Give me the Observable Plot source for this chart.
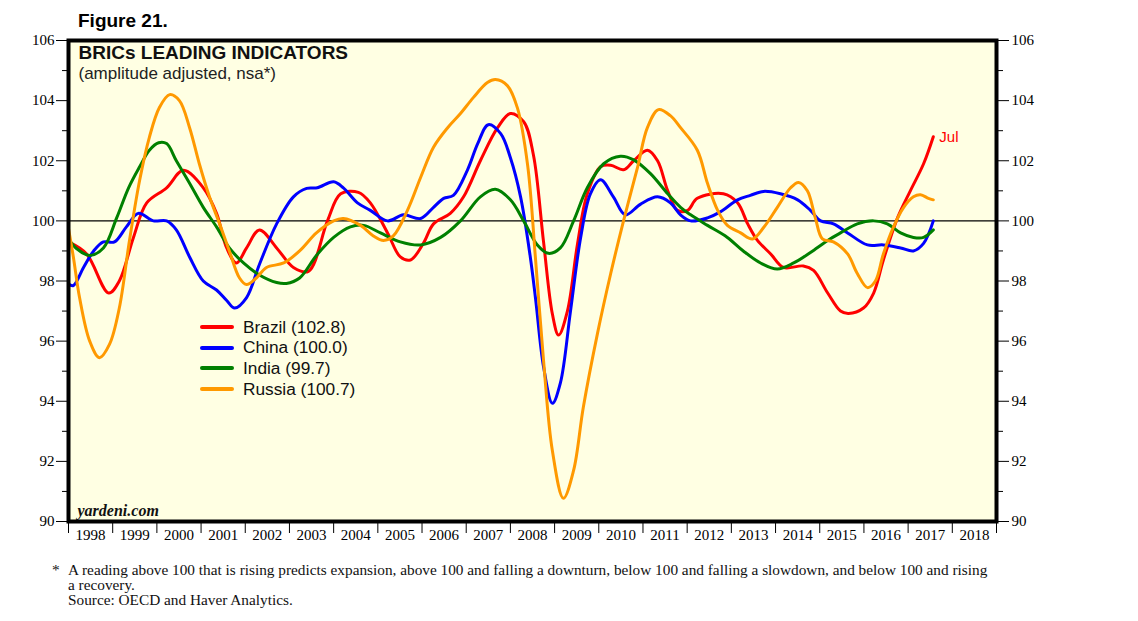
<!DOCTYPE html>
<html>
<head>
<meta charset="utf-8">
<script src="https://cdn.jsdelivr.net/npm/d3@7"></script>
<script src="https://cdn.jsdelivr.net/npm/@observablehq/plot@0.6"></script>
<style>
  body { margin: 0; background: #fff; }
  #wrap { position: relative; width: 1138px; height: 621px; font-family: "Liberation Sans", Arial, sans-serif; }
  #fig { position: absolute; left: 78px; top: 10px; font-weight: bold; font-size: 19px; color: #000; }
  #legend { position: absolute; left: 200px; top: 317px; font-size: 17.3px; color: #111; }
  .row { height: 20.6px; display: flex; align-items: center; }
  .sw { width: 34px; height: 4px; border-radius: 2px; margin-right: 9px; }
  #foot { position: absolute; left: 0; top: 562px; font-family: "Liberation Serif", "Times New Roman", serif; font-size: 15.3px; line-height: 15px; color: #111; }
  #foot .star { position: absolute; left: 52px; top: 0; }
  #foot .txt { position: absolute; left: 68px; top: 0; white-space: nowrap; }
  #chart { position: absolute; left: 0; top: 0; }
</style>
</head>
<body>
<div id="wrap">
  <div id="chart"></div>
  <div id="fig">Figure 21.</div>
  <div id="legend"></div>
  <div id="foot"><span class="star">*</span><div class="txt">A reading above 100 that is rising predicts expansion, above 100 and falling a downturn, below 100 and falling a slowdown, and below 100 and rising<br>a recovery.<br>Source: OECD and Haver Analytics.</div></div>
</div>
<script>
// ---- data: [decimal year, index value] ----
const brazil = [
  [1998.00, 99.3], [1998.41, 98.9], [1998.91, 97.6], [1999.15, 98.0], [1999.47, 99.45], [1999.77, 100.6],
  [2000.22, 101.1], [2000.60, 101.68], [2001.05, 101.1], [2001.35, 100.25], [2001.58, 99.1], [2001.80, 98.6],
  [2002.03, 99.1], [2002.32, 99.7], [2002.71, 99.1], [2003.09, 98.45], [2003.43, 98.32], [2003.86, 100.0],
  [2004.16, 100.9], [2004.56, 100.95], [2004.83, 100.6], [2005.22, 99.6], [2005.51, 98.8], [2005.74, 98.7],
  [2006.03, 99.25], [2006.26, 99.9], [2006.64, 100.25], [2006.94, 100.8], [2007.32, 102.0], [2007.71, 103.1],
  [2008.00, 103.57], [2008.30, 103.3], [2008.52, 102.2], [2008.75, 99.3], [2008.95, 96.9], [2009.09, 96.2],
  [2009.29, 97.0], [2009.52, 99.25], [2009.74, 100.9], [2010.04, 101.8], [2010.27, 101.85], [2010.56, 101.7],
  [2010.79, 102.0], [2011.10, 102.35], [2011.33, 102.0], [2011.56, 101.0], [2011.78, 100.35], [2012.01, 100.35],
  [2012.23, 100.75], [2012.82, 100.9], [2013.14, 100.6], [2013.37, 99.9], [2013.59, 99.35], [2013.89, 98.9],
  [2014.18, 98.45], [2014.63, 98.5], [2014.86, 98.35], [2015.18, 97.6], [2015.47, 97.0], [2015.65, 96.92],
  [2015.99, 97.1], [2016.22, 97.6], [2016.44, 98.7], [2016.76, 100.1], [2017.05, 101.0], [2017.35, 101.9],
  [2017.57, 102.8]
];
const china = [
  [1998.00, 97.9], [1998.11, 97.85], [1998.34, 98.45], [1998.57, 99.0], [1998.79, 99.3], [1999.04, 99.3],
  [1999.31, 99.8], [1999.58, 100.25], [1999.92, 100.0], [2000.22, 100.0], [2000.44, 99.7], [2000.74, 98.8],
  [2001.05, 98.0], [2001.35, 97.7], [2001.58, 97.35], [2001.76, 97.1], [2002.03, 97.45], [2002.32, 98.55],
  [2002.71, 99.9], [2003.09, 100.8], [2003.39, 101.08], [2003.63, 101.1], [2004.00, 101.3], [2004.22, 101.1],
  [2004.54, 100.6], [2004.83, 100.35], [2005.22, 100.0], [2005.58, 100.2], [2005.97, 100.08], [2006.26, 100.45],
  [2006.49, 100.75], [2006.71, 100.85], [2007.03, 101.7], [2007.26, 102.57], [2007.50, 103.2], [2007.78, 102.9],
  [2008.00, 102.1], [2008.23, 100.8], [2008.45, 98.8], [2008.57, 97.4], [2008.75, 95.15], [2008.95, 93.93],
  [2009.13, 94.6], [2009.36, 97.0], [2009.59, 99.45], [2009.81, 100.9], [2010.04, 101.37], [2010.33, 100.8],
  [2010.60, 100.2], [2010.94, 100.55], [2011.33, 100.8], [2011.62, 100.6], [2011.85, 100.2], [2012.08, 100.0],
  [2012.46, 100.1], [2012.75, 100.3], [2013.14, 100.7], [2013.43, 100.85], [2013.73, 100.98], [2014.11, 100.9],
  [2014.50, 100.7], [2014.79, 100.35], [2015.02, 100.0], [2015.31, 99.9], [2015.63, 99.6], [2016.08, 99.2],
  [2016.44, 99.2], [2016.83, 99.1], [2017.12, 99.0], [2017.35, 99.25], [2017.57, 100.0]
];
const india = [
  [1998.00, 99.4], [1998.18, 99.08], [1998.48, 98.85], [1998.79, 99.1], [1999.09, 100.1], [1999.36, 101.1],
  [1999.61, 101.8], [1999.83, 102.35], [2000.04, 102.6], [2000.22, 102.57], [2000.44, 102.0], [2000.74, 101.25],
  [2001.05, 100.45], [2001.35, 99.8], [2001.64, 99.1], [2001.96, 98.6], [2002.32, 98.2], [2002.71, 97.95],
  [2002.93, 97.92], [2003.23, 98.1], [2003.61, 98.85], [2004.00, 99.45], [2004.38, 99.8], [2004.68, 99.85],
  [2005.06, 99.6], [2005.51, 99.3], [2005.97, 99.2], [2006.42, 99.45], [2006.87, 100.0], [2007.32, 100.8],
  [2007.66, 101.05], [2008.00, 100.7], [2008.30, 100.0], [2008.61, 99.2], [2008.86, 98.92], [2009.13, 99.1],
  [2009.43, 100.0], [2009.74, 101.1], [2010.11, 101.9], [2010.49, 102.15], [2010.79, 102.03], [2011.17, 101.57],
  [2011.56, 100.9], [2011.85, 100.45], [2012.08, 100.2], [2012.46, 99.85], [2012.91, 99.45], [2013.27, 99.0],
  [2013.66, 98.6], [2014.04, 98.4], [2014.41, 98.6], [2014.79, 98.95], [2015.18, 99.35], [2015.47, 99.6],
  [2015.85, 99.9], [2016.22, 100.0], [2016.53, 99.9], [2016.83, 99.6], [2017.12, 99.45], [2017.35, 99.45],
  [2017.57, 99.7]
];
const russia = [
  [1998.00, 99.75], [1998.11, 98.8], [1998.25, 97.45], [1998.48, 96.0], [1998.70, 95.45], [1998.93, 95.9],
  [1999.15, 97.1], [1999.38, 99.35], [1999.61, 101.35], [1999.83, 102.78], [2000.06, 103.78], [2000.29, 104.2],
  [2000.51, 104.0], [2000.74, 103.1], [2000.96, 101.9], [2001.19, 100.8], [2001.42, 99.9], [2001.64, 99.0],
  [2001.87, 98.1], [2002.03, 97.88], [2002.25, 98.1], [2002.48, 98.45], [2002.87, 98.6], [2003.23, 99.0],
  [2003.61, 99.6], [2004.00, 100.0], [2004.22, 100.08], [2004.61, 99.85], [2004.90, 99.5], [2005.13, 99.35],
  [2005.35, 99.5], [2005.67, 100.35], [2005.97, 101.45], [2006.26, 102.45], [2006.58, 103.1], [2006.87, 103.57],
  [2007.16, 104.1], [2007.48, 104.6], [2007.66, 104.7], [2007.93, 104.5], [2008.16, 103.75], [2008.39, 101.85],
  [2008.57, 98.7], [2008.75, 95.35], [2008.95, 92.35], [2009.20, 90.77], [2009.43, 91.7], [2009.65, 93.8],
  [2009.97, 96.25], [2010.27, 98.25], [2010.56, 100.0], [2010.88, 101.8], [2011.10, 103.1], [2011.35, 103.7],
  [2011.62, 103.5], [2011.85, 103.1], [2012.23, 102.35], [2012.46, 101.25], [2012.69, 100.35], [2012.91, 99.85],
  [2013.21, 99.6], [2013.48, 99.4], [2013.73, 99.78], [2014.04, 100.45], [2014.34, 101.1], [2014.52, 101.28],
  [2014.72, 101.0], [2014.90, 100.1], [2015.06, 99.4], [2015.31, 99.3], [2015.63, 98.9], [2015.85, 98.25],
  [2016.08, 97.78], [2016.26, 98.0], [2016.44, 98.9], [2016.67, 99.8], [2016.90, 100.45], [2017.12, 100.8],
  [2017.28, 100.87], [2017.46, 100.75], [2017.57, 100.7]
];
const seriesNames = ["Brazil", "China", "India", "Russia"];
const seriesColors = ["#ff0000", "#0000ff", "#008000", "#ff9900"];
const seriesLatest = ["102.8", "100.0", "99.7", "100.7"];
const years = d3.range(1998, 2019);          // labelled years
const yMajor = d3.range(90, 107, 2);
const yMinor = d3.range(91, 106, 2);
const lastLabel = "Jul";

const allSeries = [brazil, china, india, russia];
const serif = "Liberation Serif, Times New Roman, serif";
const sans = "Liberation Sans, Arial, sans-serif";

const marks = [
  Plot.frame({fill: "#ffffe3"}),
  Plot.ruleY([100], {stroke: "black", strokeWidth: 1.2}),
  ...allSeries.map((s, i) => Plot.line(s, {x: d => d[0], y: d => d[1], stroke: seriesColors[i], strokeWidth: 3, curve: "catmull-rom"})),
  Plot.text([brazil[brazil.length - 1]], {x: d => d[0], y: d => d[1], text: () => lastLabel, fill: "#ff0000", dx: 6, dy: 0, textAnchor: "start", fontSize: 15, fontFamily: sans}),
  // left axis
  Plot.axisY({anchor: "left", ticks: yMajor, tickSize: 12, tickPadding: 2, fontSize: 15, fontFamily: serif, tickFormat: d => d, label: null}),
  Plot.axisY({anchor: "left", ticks: yMinor, tickSize: 6, tickFormat: () => "", label: null}),
  // right axis
  Plot.axisY({anchor: "right", ticks: yMajor, tickSize: 12, tickPadding: 3, fontSize: 15, fontFamily: serif, tickFormat: d => d, label: null}),
  Plot.axisY({anchor: "right", ticks: yMinor, tickSize: 6, tickFormat: () => "", label: null}),
  // bottom axis: ticks at year boundaries, labels centred in each year
  Plot.axisX({ticks: d3.range(1998, 2020), tickSize: 12, tickFormat: () => "", label: null}),
  Plot.axisX({ticks: years.map(y => y + 0.5), tickSize: 0, tickPadding: 8, fontSize: 15, fontFamily: serif, tickFormat: d => String(Math.floor(d)), label: null}),
  Plot.frame({stroke: "black", strokeWidth: 4}),
  Plot.text(["BRICs LEADING INDICATORS"], {frameAnchor: "top-left", dx: 10, dy: 5, lineAnchor: "top", textAnchor: "start", fontSize: 19, fontWeight: "bold", fill: "#111", fontFamily: sans}),
  Plot.text(["(amplitude adjusted, nsa*)"], {frameAnchor: "top-left", dx: 10, dy: 26, lineAnchor: "top", textAnchor: "start", fontSize: 17, fill: "#222", fontFamily: sans}),
  Plot.text(["yardeni.com"], {frameAnchor: "bottom-left", dx: 9, dy: -6, lineAnchor: "bottom", textAnchor: "start", fontSize: 16, fontWeight: "bold", fontStyle: "italic", fill: "#111", fontFamily: serif})
];

const chart = Plot.plot({
  width: 1138,
  height: 560,
  marginLeft: 68,
  marginRight: 142,
  marginTop: 40,
  marginBottom: 39,
  x: {domain: [1998, 2019]},
  y: {domain: [90, 106]},
  style: {background: "transparent", color: "black", overflow: "visible"},
  marks
});
document.getElementById("chart").appendChild(chart);

const legend = document.getElementById("legend");
seriesNames.forEach((n, i) => {
  const row = document.createElement("div");
  row.className = "row";
  const sw = document.createElement("div");
  sw.className = "sw";
  sw.style.background = seriesColors[i];
  const t = document.createElement("span");
  t.textContent = `${n} (${seriesLatest[i]})`;
  row.appendChild(sw); row.appendChild(t);
  legend.appendChild(row);
});
</script>
</body>
</html>
